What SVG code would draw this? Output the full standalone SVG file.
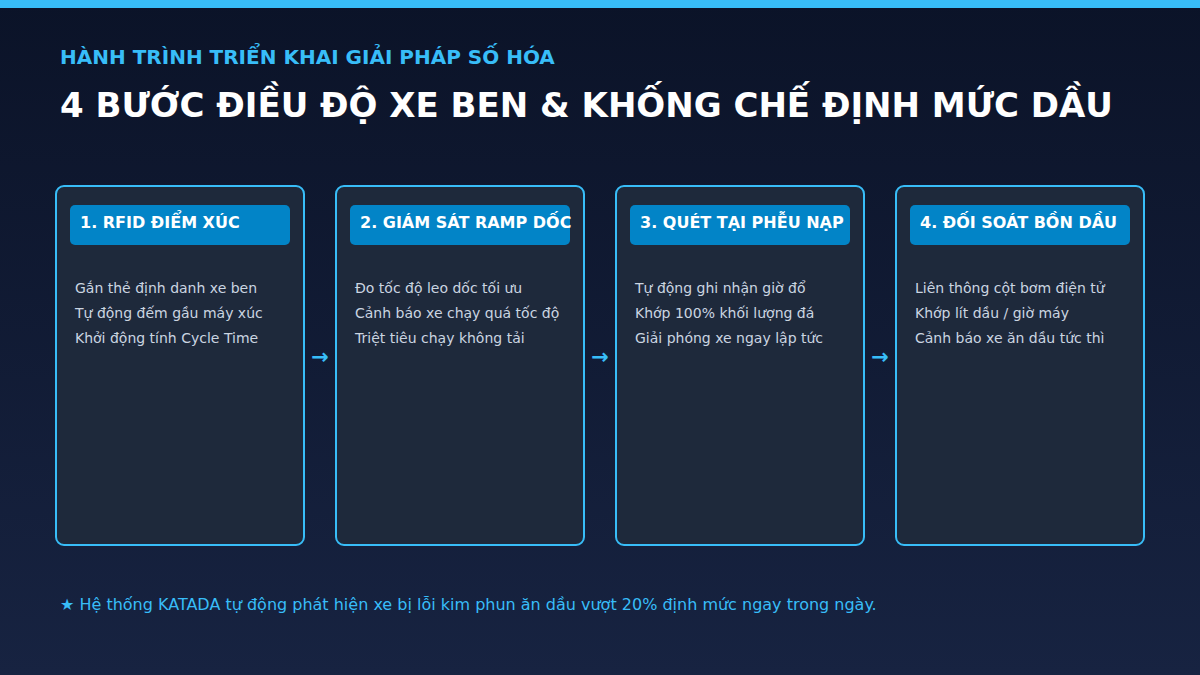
<svg xmlns="http://www.w3.org/2000/svg" width="1200" height="675" viewBox="0 0 1200 675">
<defs>
<linearGradient id="bg" x1="0" y1="0" x2="0" y2="1">
<stop offset="0" stop-color="#0b1328"/>
<stop offset="1" stop-color="#172341"/>
</linearGradient>
</defs>
<style>
.card{fill:#1e293b;stroke:#38bdf8;stroke-width:2}
.hdr{fill:#0284c7}
.ht{font-family:"DejaVu Sans",sans-serif;font-weight:bold;font-size:16px;fill:#ffffff}
.bt{font-family:"DejaVu Sans",sans-serif;font-size:14px;fill:#cbd5e1}
.arr{font-family:"DejaVu Sans",sans-serif;font-weight:bold;font-size:21px;fill:#38bdf8;text-anchor:middle}
</style>
<rect width="1200" height="675" fill="url(#bg)"/>
<rect width="1200" height="8" fill="#38bdf8"/>
<text x="60" y="64" font-family="DejaVu Sans,sans-serif" font-weight="bold" font-size="20" fill="#38bdf8">HÀNH TRÌNH TRIỂN KHAI GIẢI PHÁP SỐ HÓA</text>
<text x="60" y="117" font-family="DejaVu Sans,sans-serif" font-weight="bold" font-size="34" fill="#ffffff">4 BƯỚC ĐIỀU ĐỘ XE BEN &amp; KHỐNG CHẾ ĐỊNH MỨC DẦU</text>

<g id="step1">
<rect class="card" x="56" y="186" width="248" height="359" rx="8"/>
<rect class="hdr" x="70" y="205" width="220" height="40" rx="5"/>
<text class="ht" x="80" y="228">1. RFID ĐIỂM XÚC</text>
<text class="bt" x="75" y="293">Gắn thẻ định danh xe ben</text>
<text class="bt" x="75" y="318">Tự động đếm gầu máy xúc</text>
<text class="bt" x="75" y="343">Khởi động tính Cycle Time</text>
</g>
<g id="step2">
<rect class="card" x="336" y="186" width="248" height="359" rx="8"/>
<rect class="hdr" x="350" y="205" width="220" height="40" rx="5"/>
<text class="ht" x="360" y="228">2. GIÁM SÁT RAMP DỐC</text>
<text class="bt" x="355" y="293">Đo tốc độ leo dốc tối ưu</text>
<text class="bt" x="355" y="318">Cảnh báo xe chạy quá tốc độ</text>
<text class="bt" x="355" y="343">Triệt tiêu chạy không tải</text>
</g>
<g id="step3">
<rect class="card" x="616" y="186" width="248" height="359" rx="8"/>
<rect class="hdr" x="630" y="205" width="220" height="40" rx="5"/>
<text class="ht" x="640" y="228">3. QUÉT TẠI PHỄU NẠP</text>
<text class="bt" x="635" y="293">Tự động ghi nhận giờ đổ</text>
<text class="bt" x="635" y="318">Khớp 100% khối lượng đá</text>
<text class="bt" x="635" y="343">Giải phóng xe ngay lập tức</text>
</g>
<g id="step4">
<rect class="card" x="896" y="186" width="248" height="359" rx="8"/>
<rect class="hdr" x="910" y="205" width="220" height="40" rx="5"/>
<text class="ht" x="920" y="228">4. ĐỐI SOÁT BỒN DẦU</text>
<text class="bt" x="915" y="293">Liên thông cột bơm điện tử</text>
<text class="bt" x="915" y="318">Khớp lít dầu / giờ máy</text>
<text class="bt" x="915" y="343">Cảnh báo xe ăn dầu tức thì</text>
</g>
<g id="connectors">
<text class="arr" x="320" y="364">→</text>
<text class="arr" x="600" y="364">→</text>
<text class="arr" x="880" y="364">→</text>
</g>
<text x="60" y="610" font-family="DejaVu Sans,sans-serif" font-size="16" fill="#38bdf8">★ Hệ thống KATADA tự động phát hiện xe bị lỗi kim phun ăn dầu vượt 20% định mức ngay trong ngày.</text>
</svg>
